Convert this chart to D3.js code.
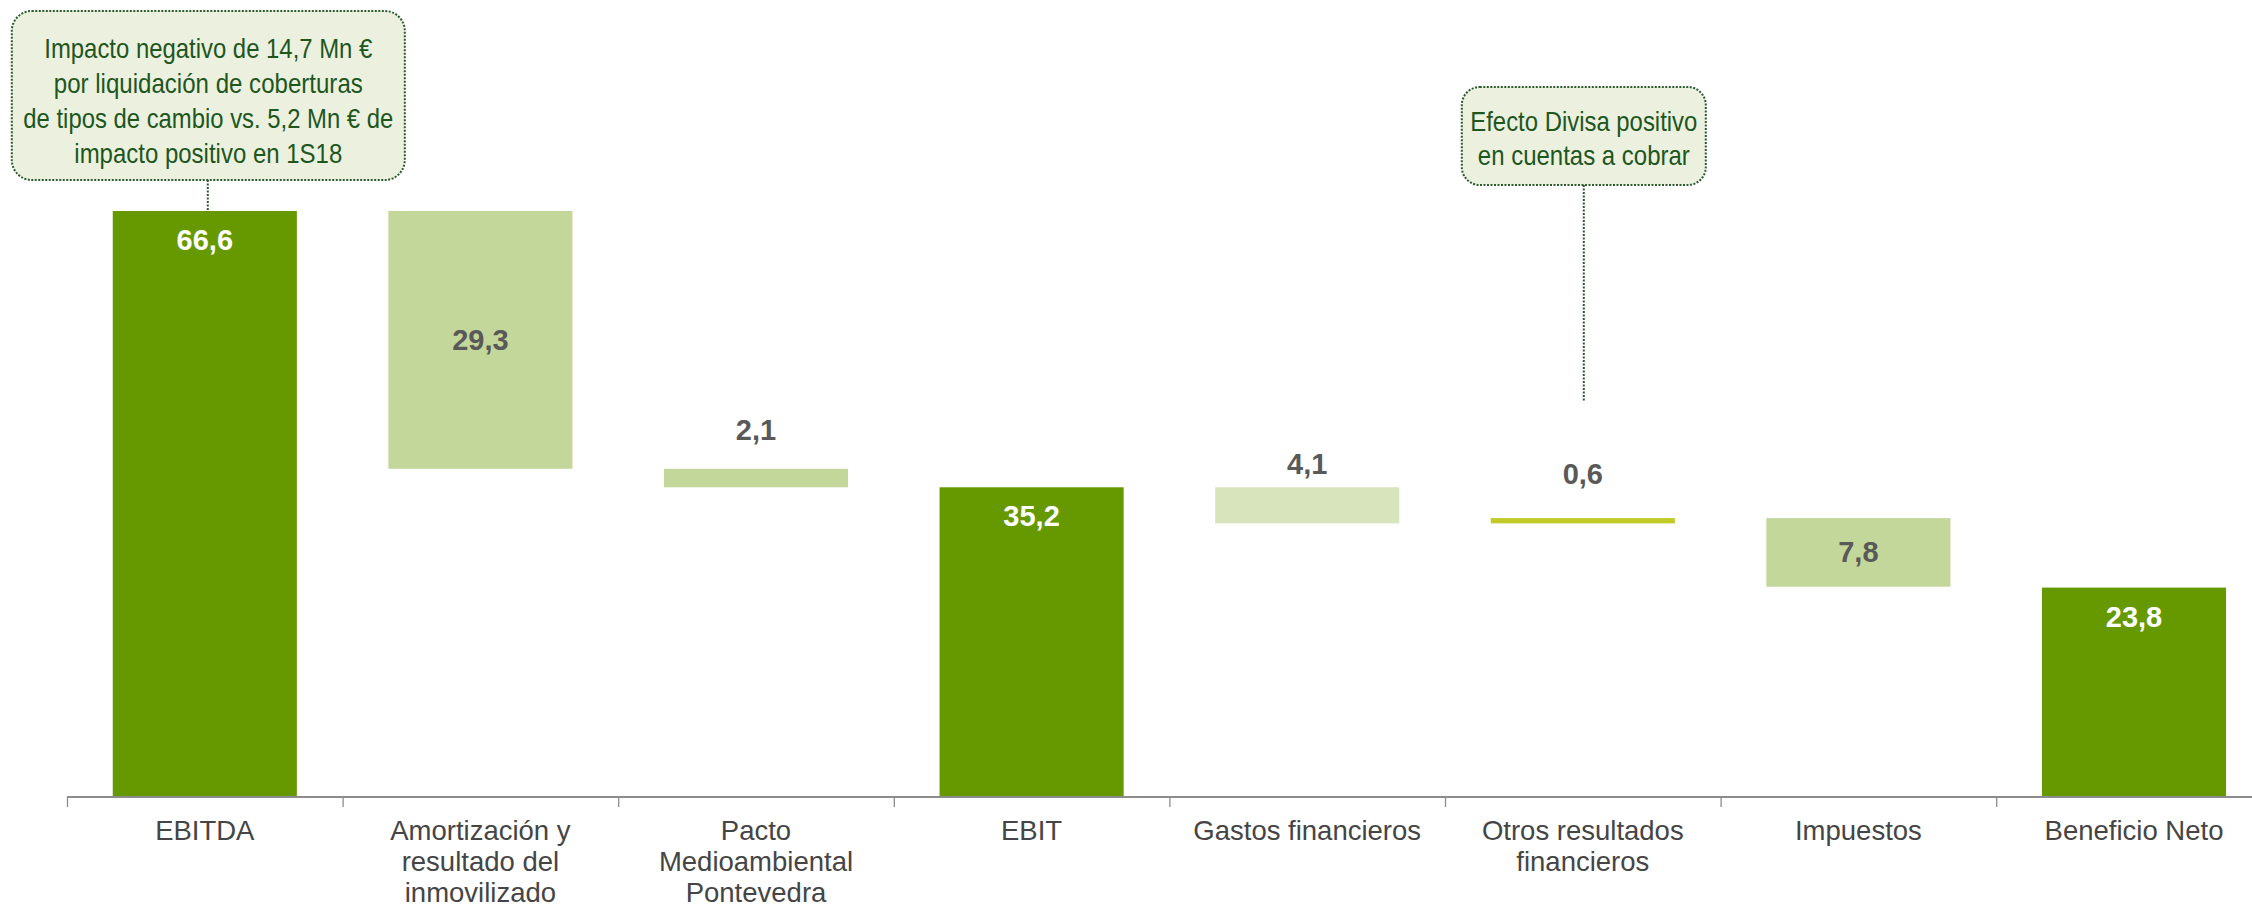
<!DOCTYPE html>
<html lang="es">
<head>
<meta charset="utf-8">
<script src="https://cdn.jsdelivr.net/npm/d3@7"></script>
<style>
  html, body { margin: 0; padding: 0; background: #ffffff; overflow: hidden; }
  svg { display: block; }
</style>
</head>
<body>
<svg id="chart" width="2252" height="908"></svg>
<script>
// Cuenta de resultados 1S19: puente EBITDA -> Beneficio Neto (Mn €)
const categories = [
  "EBITDA",
  "Amortización y resultado del inmovilizado",
  "Pacto Medioambiental Pontevedra",
  "EBIT",
  "Gastos financieros",
  "Otros resultados financieros",
  "Impuestos",
  "Beneficio Neto"
];
const categoryLines = [
  ["EBITDA"],
  ["Amortización y", "resultado del", "inmovilizado"],
  ["Pacto", "Medioambiental", "Pontevedra"],
  ["EBIT"],
  ["Gastos financieros"],
  ["Otros resultados", "financieros"],
  ["Impuestos"],
  ["Beneficio Neto"]
];
const values = [66.6, -29.3, -2.1, 35.2, -4.1, 0.6, -7.8, 23.8];
const kinds = ["total", "delta", "delta", "total", "delta", "delta", "delta", "total"];

const callout1Lines = [
  "Impacto negativo de 14,7 Mn €",
  "por liquidación de coberturas",
  "de tipos de cambio vs. 5,2 Mn € de",
  "impacto positivo en 1S18"
];
const callout2Lines = [
  "Efecto Divisa positivo",
  "en cuentas a cobrar"
];

// ---- styling ----
const barFill = {
  "EBITDA": "#669900",
  "Amortización y resultado del inmovilizado": "#C4D79B",
  "Pacto Medioambiental Pontevedra": "#C4D79B",
  "EBIT": "#669900",
  "Gastos financieros": "#D8E4BC",
  "Otros resultados financieros": "#C0CB28",
  "Impuestos": "#C4D79B",
  "Beneficio Neto": "#669900"
};
// where each value label sits: inside the top of the bar, centred, or above it (gap in px)
const labelPlacement = {
  "EBITDA": { mode: "inside" },
  "Amortización y resultado del inmovilizado": { mode: "center" },
  "Pacto Medioambiental Pontevedra": { mode: "above", gap: 29 },
  "EBIT": { mode: "inside" },
  "Gastos financieros": { mode: "above", gap: 13 },
  "Otros resultados financieros": { mode: "above", gap: 34 },
  "Impuestos": { mode: "center" },
  "Beneficio Neto": { mode: "inside" }
};
const darkText = "#595959";
const axisGrey = "#8C8C8C";
const calloutFill = "#EBF1DE";
const calloutStroke = "#2C5A2C";
const calloutText = "#1E561E";

// ---- build the floating segments ----
let running = 0;
const bars = categories.map((c, i) => {
  let lo, hi;
  if (kinds[i] === "total") {
    lo = 0; hi = values[i]; running = values[i];
  } else {
    const start = running, end = running + values[i];
    lo = Math.min(start, end); hi = Math.max(start, end);
    running = end;
  }
  return { cat: c, value: values[i], kind: kinds[i], lo, hi, lines: categoryLines[i] };
});

const svg = d3.select("#chart");
const baseY = 797;

const x = d3.scaleBand()
  .domain(categories)
  .range([67, 67 + 8 * 275.6])
  .paddingInner(0.332)
  .paddingOuter(0.166);

const y = d3.scaleLinear()
  .domain([0, 66.6])
  .range([baseY, 211]);

const fmt = v => d3.format(".1f")(Math.abs(v)).replace(".", ",");

// bars
svg.append("g").selectAll("rect")
  .data(bars)
  .join("rect")
  .attr("x", d => x(d.cat))
  .attr("width", x.bandwidth())
  .attr("y", d => y(d.hi))
  .attr("height", d => Math.max(1, y(d.lo) - y(d.hi)))
  .attr("fill", d => barFill[d.cat]);

// category axis
const axis = d3.axisBottom(x).tickSize(0).tickFormat("");
const gAxis = svg.append("g").attr("transform", `translate(0,${baseY})`).call(axis);
gAxis.select(".domain").remove();
gAxis.append("line")
  .attr("x1", x.range()[0]).attr("x2", 2252)
  .attr("stroke", axisGrey).attr("stroke-width", 2);
// separators between categories
const step = x.step();
gAxis.selectAll("line.sep")
  .data(categories)
  .join("line")
  .attr("class", "sep")
  .attr("x1", (d) => x(d) - step * 0.166 + 0.5)
  .attr("x2", (d) => x(d) - step * 0.166 + 0.5)
  .attr("y1", 0).attr("y2", 10)
  .attr("stroke", axisGrey).attr("stroke-width", 1.3);

// category labels
const catText = svg.append("g")
  .selectAll("text")
  .data(bars)
  .join("text")
  .attr("x", d => x(d.cat) + x.bandwidth() / 2)
  .attr("y", 840)
  .attr("text-anchor", "middle")
  .attr("font-family", "'Liberation Sans', Arial, sans-serif")
  .attr("font-size", 27.5)
  .attr("fill", "#454545");
catText.selectAll("tspan")
  .data(d => d.lines.map(l => ({ l, cx: x(d.cat) + x.bandwidth() / 2 })))
  .join("tspan")
  .attr("x", t => t.cx)
  .attr("dy", (t, i) => i === 0 ? 0 : 31)
  .text(t => t.l);

// value labels
svg.append("g").selectAll("text")
  .data(bars)
  .join("text")
  .attr("x", d => x(d.cat) + x.bandwidth() / 2)
  .attr("y", d => {
    const p = labelPlacement[d.cat];
    if (p.mode === "inside") return y(d.hi) + 39;
    if (p.mode === "center") return (y(d.hi) + y(d.lo)) / 2 + 10;
    return y(d.hi) - p.gap;
  })
  .attr("text-anchor", "middle")
  .attr("font-family", "'Liberation Sans', Arial, sans-serif")
  .attr("font-weight", "bold")
  .attr("font-size", 29)
  .attr("fill", d => d.kind === "total" ? "#ffffff" : darkText)
  .text(d => fmt(d.value));

// callouts
function callout(lines, box, anchorX, anchorY, baseline0, lineGap, widths) {
  const g = svg.append("g");
  g.append("line")
    .attr("x1", anchorX).attr("x2", anchorX)
    .attr("y1", box.y + box.h).attr("y2", anchorY)
    .attr("stroke", calloutStroke).attr("stroke-width", 2)
    .attr("stroke-dasharray", "2,1.5");
  g.append("rect")
    .attr("x", box.x).attr("y", box.y)
    .attr("width", box.w).attr("height", box.h)
    .attr("rx", box.r).attr("ry", box.r)
    .attr("fill", calloutFill)
    .attr("stroke", calloutStroke).attr("stroke-width", 2)
    .attr("stroke-dasharray", "2,1.5");
  g.selectAll("text")
    .data(lines)
    .join("text")
    .attr("x", box.x + box.w / 2)
    .attr("y", (d, i) => baseline0 + i * lineGap)
    .attr("text-anchor", "middle")
    .attr("font-family", "'Liberation Sans Narrow', 'Arial Narrow', 'Liberation Sans', sans-serif")
    .attr("font-size", 28)
    .attr("fill", calloutText)
    .attr("textLength", (d, i) => widths[i])
    .attr("lengthAdjust", "spacingAndGlyphs")
    .text(d => d);
}

const ebitda = bars[0];
const c1x = x(ebitda.cat) + x.bandwidth() / 2 + 3;
callout(callout1Lines, { x: c1x - 196, y: 11, w: 393, h: 169, r: 20 },
  c1x, y(ebitda.hi), 58, 35, [328, 309, 370, 268]);

const otros = bars[5];
const c2x = x(otros.cat) + x.bandwidth() / 2 + 1;
callout(callout2Lines, { x: c2x - 122, y: 87, w: 244, h: 98, r: 18 },
  c2x, y(otros.hi) - 116, 131, 34, [227, 212]);
</script>
</body>
</html>
